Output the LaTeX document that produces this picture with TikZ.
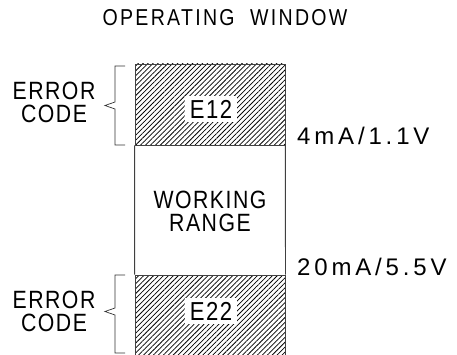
\documentclass[tikz,border=0pt]{standalone}
\usepackage{fontspec}
\usepackage{tikz}
\usetikzlibrary{positioning,patterns.meta}
\newfontfamily\cadfont[FakeStretch=0.85,LetterSpace=6]{Liberation Sans}
\newfontfamily\cadwide[LetterSpace=16]{Liberation Sans}
\newfontfamily\cadtitle[FakeStretch=0.85,LetterSpace=10]{Liberation Sans}

\begin{document}
\begin{tikzpicture}[x=1pt,y=-1pt,
  lbl/.style={inner sep=0pt,align=center,font=\cadfont\fontsize{25}{23}\selectfont},
  vallbl/.style={inner sep=0pt,anchor=west,font=\cadwide\fontsize{24}{24}\selectfont},
  hatchbox/.style={draw=black!75,line width=0.8pt,
    pattern={Lines[angle=45,distance=3.5pt,line width=0.75pt]},
    minimum width=150pt,inner sep=0pt},
  tag/.style={fill=white,inner xsep=5pt,inner ysep=4pt,font=\cadfont\fontsize{26}{23}\selectfont},
  brace/.style={draw=black!80,line width=0.7pt}]
\useasboundingbox (0,0) rectangle (457,355);
\clip (0,0) rectangle (457,355);
% title
\node[inner sep=0pt,font=\cadtitle\fontsize{23}{23}\selectfont] (title) at (225,18) {OPERATING\ \ WINDOW};
% window column
\node[hatchbox,minimum height=81pt] (e12box) at (210,104.5) {};
\node[hatchbox,minimum height=85pt] (e22box) at (210,317.5) {};
\draw[black!75,line width=0.8pt] (e12box.south west) -- (e22box.north west);
\draw[black!75,line width=0.8pt] (e12box.south east) -- (e22box.north east);
\node[tag] (e12) at (211,109) {E12};
\node[tag] (e22) at (211,311) {E22};
\node[lbl] (work) at (210,211) {WORKING\\RANGE};
% limits
\node[vallbl] (lowlim) at (297,136) {4mA/1.1V};
\node[vallbl] (highlim) at (297,267) {20mA/5.5V};
% error braces
\node[lbl] (err1) at (54,102) {ERROR\\CODE};
\node[lbl] (err2) at (54,311) {ERROR\\CODE};
\draw[brace] (125,66) -- (115,66) -- (115,102) -- (105,105.5) -- (115,109) -- (115,145) -- (125,145);
\draw[brace] (125,275) -- (115,275) -- (115,308) -- (105,311.5) -- (115,315) -- (115,353) -- (125,353);
\end{tikzpicture}
\end{document}
